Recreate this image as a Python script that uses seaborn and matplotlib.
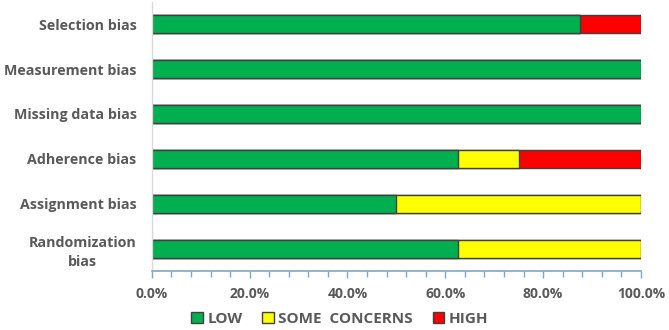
import matplotlib
matplotlib.use("Agg")
import matplotlib.pyplot as plt
import seaborn as sns
import pandas as pd
import numpy as np
from matplotlib.patches import Patch
from matplotlib.ticker import MultipleLocator, PercentFormatter

categories = ["Selection bias", "Measurement bias", "Missing data bias",
              "Adherence bias", "Assignment bias", "Randomization\nbias"]
low = [87.5, 100, 100, 62.5, 50, 62.5]
some = [0, 0, 0, 12.5, 50, 37.5]
high = [12.5, 0, 0, 25, 0, 0]
series = ["LOW", "SOME  CONCERNS", "HIGH"]
colors = ["#00B050", "#FFFF00", "#FF0000"]

sns.set_theme(style="white")
plt.rcParams['font.family'] = ['Open Sans', 'DejaVu Sans']

df = pd.DataFrame({"cat": categories, "low": low, "some": some, "high": high})
df["c1"] = df["low"]
df["c2"] = df["low"] + df["some"]
df["c3"] = df["low"] + df["some"] + df["high"]

fig, ax = plt.subplots(figsize=(6.69, 3.3), dpi=100)
fig.subplots_adjust(left=0.227, right=0.958, top=0.995, bottom=0.178)

for col, c in zip(["c3", "c2", "c1"], colors[::-1]):
    sns.barplot(data=df, x=col, y="cat", color=c, orient="h", width=0.4,
                edgecolor="#404040", linewidth=1.0, saturation=1, ax=ax)

ax.set_xlim(0, 100)
ax.set_ylim(5.5, -0.5)
ax.set_xlabel("")
ax.set_ylabel("")
ax.xaxis.set_major_locator(MultipleLocator(20))
ax.xaxis.set_minor_locator(MultipleLocator(4))
ax.xaxis.set_major_formatter(PercentFormatter(decimals=1))
ax.tick_params(axis="x", which="major", bottom=True, length=5, width=1,
               color="#7FA7C0", direction="out", pad=6, labelsize=10,
               labelcolor="#595959")
ax.tick_params(axis="x", which="minor", bottom=True, length=4, width=1,
               color="#7FA7C0", direction="out")
ax.tick_params(axis="y", length=0, pad=11, labelsize=10.3, labelcolor="#595959")
for lab in ax.get_xticklabels():
    lab.set_fontweight("bold")
for lab in ax.get_yticklabels():
    lab.set_fontweight("bold")
    lab.set_multialignment("center")
    lab.set_linespacing(1.45)

for s in ["top", "right"]:
    ax.spines[s].set_visible(False)
ax.spines["left"].set_color("#D9D9D9")
ax.spines["left"].set_linewidth(1)
ax.spines["bottom"].set_color("#7FA7C0")
ax.spines["bottom"].set_linewidth(1.2)

handles = [Patch(facecolor=c, edgecolor="#404040", linewidth=1, label=s)
           for s, c in zip(series, colors)]
leg = fig.legend(handles=handles, loc="lower center", ncol=3, frameon=False,
                 bbox_to_anchor=(0.508, -0.012), borderpad=0.05,
                 handlelength=0.75, handleheight=0.75,
                 handletextpad=0.3, columnspacing=1.3,
                 prop={"size": 11, "weight": "bold"})
for t in leg.get_texts():
    t.set_color("#595959")

fig.savefig("out.png", dpi=100)
